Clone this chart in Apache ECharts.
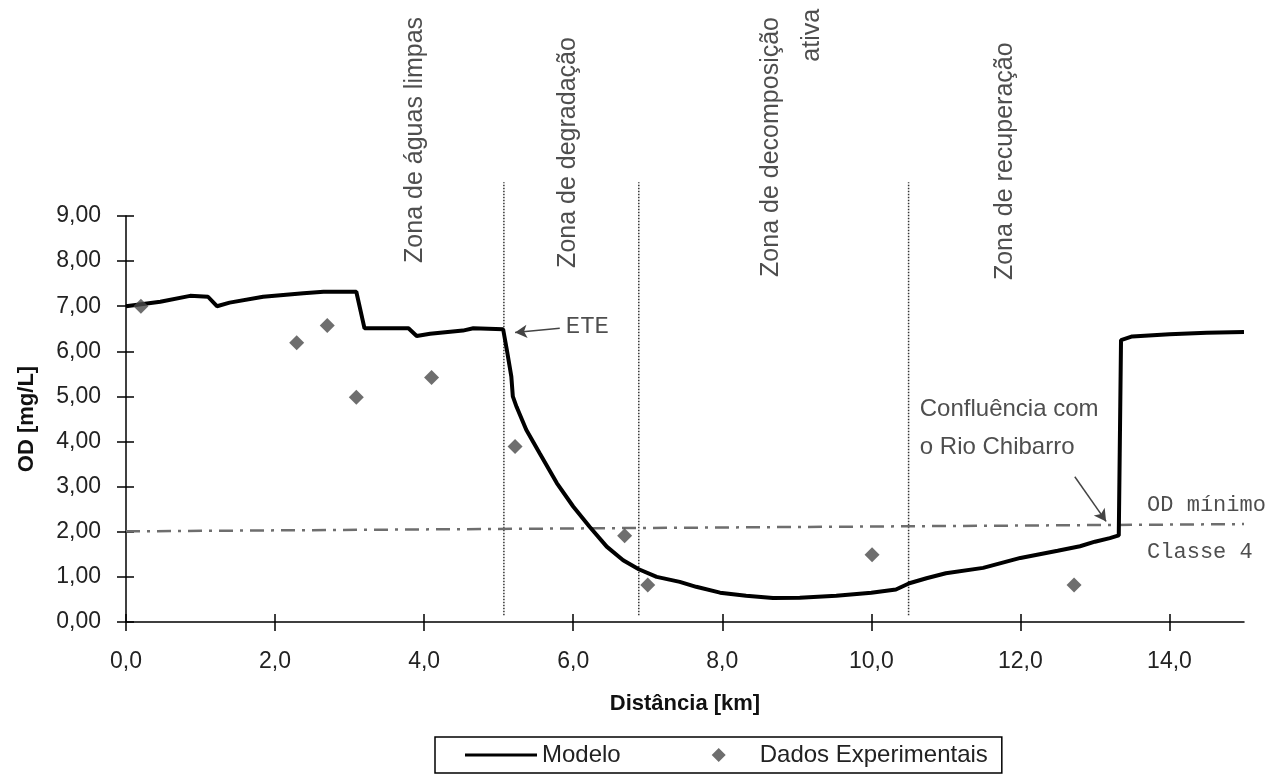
<!DOCTYPE html>
<html>
<head>
<meta charset="utf-8">
<script src="https://cdn.jsdelivr.net/npm/echarts@6/dist/echarts.min.js"></script>
<style>
html,body{margin:0;padding:0;background:#fff;}
#c{width:1284px;height:778px;}
</style>
</head>
<body>
<div id="c"></div>
<script>
// ---- data ----
const modelX = [0.0, 0.46, 0.86, 1.10, 1.22, 1.39, 1.84, 2.38, 2.65, 3.09, 3.20, 3.79, 3.90, 4.08, 4.52, 4.66, 5.06, 5.11, 5.17, 5.19, 5.24, 5.37, 5.55, 5.78, 6.00, 6.22, 6.45, 6.67, 6.88, 7.12, 7.43, 7.65, 7.97, 8.32, 8.68, 9.04, 9.53, 10.00, 10.33, 10.51, 10.74, 11.0, 11.5, 12.0, 12.5, 12.8, 13.0, 13.2, 13.32, 13.35, 13.5, 14.0, 14.5, 15.0];
const modelY = [7.0, 7.1, 7.23, 7.21, 7.0, 7.08, 7.21, 7.29, 7.32, 7.32, 6.51, 6.51, 6.34, 6.39, 6.46, 6.51, 6.49, 6.03, 5.44, 5.0, 4.77, 4.26, 3.74, 3.08, 2.56, 2.11, 1.67, 1.37, 1.17, 1.0, 0.89, 0.78, 0.65, 0.58, 0.53, 0.54, 0.58, 0.65, 0.72, 0.86, 0.97, 1.08, 1.2, 1.42, 1.58, 1.68, 1.78, 1.86, 1.92, 6.25, 6.33, 6.38, 6.41, 6.43];
const expX = [0.2, 2.29, 2.70, 3.09, 4.10, 5.22, 6.69, 7.0, 10.01, 12.72];
const expY = [7.0, 6.19, 6.57, 4.98, 5.42, 3.89, 1.91, 0.82, 1.49, 0.82];
const odMinX = [0, 15];
const odMinY = [2.01, 2.17];
const zoneBounds = [5.07, 6.88, 10.50];
const zoneBoundY = [0.15, 9.75];
const zoneLabels = ['Zona de águas limpas', 'Zona de degradação', 'Zona de decomposição', 'ativa', 'Zona de recuperação'];
const zoneLabelX = [3.88, 5.93, 8.66, 9.20, 11.79];
const zoneLabelY = [7.96, 7.85, 7.65, 12.42, 7.58];
const xTicks = ['0,0', '2,0', '4,0', '6,0', '8,0', '10,0', '12,0', '14,0'];
const yTicks = ['0,00', '1,00', '2,00', '3,00', '4,00', '5,00', '6,00', '7,00', '8,00', '9,00'];

const FONT = "'Liberation Sans', Arial, sans-serif";
const MONO = "'Courier New', 'Liberation Mono', monospace";

const chart = echarts.init(document.getElementById('c'), null, {renderer: 'canvas'});

const model = modelX.map((x, i) => [x, modelY[i]]);
const exp = expX.map((x, i) => [x, expY[i]]);

const series = [
  {
    name: 'Modelo', type: 'line', data: model, symbol: 'none',
    lineStyle: {color: '#000', width: 4}, itemStyle: {color: '#000'}, z: 5
  },
  {
    name: 'Dados Experimentais', type: 'scatter', data: exp, symbol: 'diamond',
    symbolSize: 15, itemStyle: {color: '#4a4a4a'}, z: 6
  },
  {
    name: 'odmin', type: 'line', data: odMinX.map((x, i) => [x, odMinY[i]]), symbol: 'none',
    lineStyle: {color: '#6e6e6e', width: 2.5, type: [14, 7, 3, 7]}, z: 3, silent: true
  }
];
zoneBounds.forEach((b, i) => {
  series.push({
    name: 'zb' + i, type: 'line', clip: false, symbol: 'none', silent: true,
    data: zoneBoundY.map(y => [b, y]),
    lineStyle: {color: '#333', width: 1.5, type: [1.5, 1.5]}, z: 2
  });
});
series.push({
  name: 'zonas', type: 'scatter', clip: false, symbolSize: 0, silent: true,
  data: zoneLabels.map((t, i) => ({value: [zoneLabelX[i], zoneLabelY[i]], name: t})),
  label: {
    show: true, position: [0, 0], rotate: 90, align: 'left', verticalAlign: 'middle',
    formatter: p => p.name, fontFamily: FONT, fontSize: 25, color: '#222'
  }
});
series.push({
  name: 'notas', type: 'scatter', clip: false, symbolSize: 0, silent: true,
  data: [
    {value: [5.82, 6.51], name: 'ETE', label: {fontFamily: MONO, fontSize: 24, align: 'left', verticalAlign: 'middle', offset: [6, -2]}},
    {value: [10.65, 4.72], name: 'Confluência com', label: {fontFamily: FONT, fontSize: 24, align: 'left', verticalAlign: 'middle'}},
    {value: [10.65, 3.88], name: 'o Rio Chibarro', label: {fontFamily: FONT, fontSize: 24, align: 'left', verticalAlign: 'middle'}},
    {value: [13.7, 2.58], name: 'OD mínimo', label: {fontFamily: MONO, fontSize: 22, align: 'left', verticalAlign: 'middle'}},
    {value: [13.7, 1.55], name: 'Classe 4', label: {fontFamily: MONO, fontSize: 22, align: 'left', verticalAlign: 'middle'}}
  ],
  label: {show: true, position: [0, 0], formatter: p => p.name, color: '#222'}
});
series.push({
  name: 'setas', type: 'line', data: [], silent: true,
  markLine: {
    silent: true, symbol: ['none', 'arrow'], symbolSize: [10, 12],
    lineStyle: {color: '#444', width: 1.5, type: 'solid'}, label: {show: false},
    data: [
      [{coord: [5.82, 6.51]}, {coord: [5.22, 6.42]}],
      [{coord: [12.73, 3.22]}, {coord: [13.15, 2.23]}]
    ]
  }
});

const option = {
  backgroundColor: '#fff',
  animation: false,
  grid: {left: 126, right: 40, top: 216, bottom: 156, containLabel: false},
  legend: {
    data: [
      {name: 'Modelo', icon: 'path://M0,5.5L72,5.5L72,8.5L0,8.5Z', itemStyle: {color: '#000'}},
      {name: 'Dados Experimentais', icon: 'path://M0,7L0.01,7L0,7.01Z M29,7L36,0L43,7L36,14Z M72,7L71.99,7L72,7.01Z', itemStyle: {color: '#4a4a4a'}}
    ],
    left: 435, top: 737, orient: 'horizontal',
    itemWidth: 72, itemHeight: 14, itemGap: 62, itemTextGap: 5,
    padding: [6, 14, 6, 30],
    borderColor: '#000', borderWidth: 1.5, borderRadius: 0,
    textStyle: {fontFamily: FONT, fontSize: 24, color: '#222'}
  },
  xAxis: [
    {
      type: 'value', min: 0, max: 15, interval: 2,
      name: 'Distância [km]', nameLocation: 'middle', nameGap: 71,
      nameTextStyle: {fontFamily: FONT, fontSize: 22, fontWeight: 'bold', color: '#111'},
      axisLine: {show: true, lineStyle: {color: '#000', width: 1.5}},
      axisTick: {show: true, inside: false, length: 9, lineStyle: {color: '#000', width: 1.5}, customValues: [0, 2, 4, 6, 8, 10, 12, 14]},
      axisLabel: {margin: 28, fontFamily: FONT, fontSize: 23, color: '#222',
        customValues: [0, 2, 4, 6, 8, 10, 12, 14],
        formatter: v => xTicks[Math.round(v / 2)] || ''},
      splitLine: {show: false}
    },
    {
      type: 'value', min: 0, max: 15, interval: 2, position: 'bottom',
      axisLine: {show: false},
      axisTick: {show: true, inside: true, length: 8, lineStyle: {color: '#000', width: 1.5}, customValues: [0, 2, 4, 6, 8, 10, 12, 14]},
      axisLabel: {show: false}, splitLine: {show: false}
    }
  ],
  yAxis: [
    {
      type: 'value', min: 0, max: 9, interval: 1,
      name: 'OD [mg/L]', nameLocation: 'middle', nameGap: 88,
      nameTextStyle: {fontFamily: FONT, fontSize: 22, fontWeight: 'bold', color: '#111'},
      axisLine: {show: true, lineStyle: {color: '#000', width: 1.5}},
      axisTick: {show: true, inside: false, length: 9, lineStyle: {color: '#000', width: 1.5}},
      axisLabel: {margin: 25, fontFamily: FONT, fontSize: 23, color: '#222',
        formatter: v => yTicks[Math.round(v)] || ''},
      splitLine: {show: false}
    },
    {
      type: 'value', min: 0, max: 9, interval: 1, position: 'left',
      axisLine: {show: false},
      axisTick: {show: true, inside: true, length: 8, lineStyle: {color: '#000', width: 1.5}},
      axisLabel: {show: false}, splitLine: {show: false}
    }
  ],
  series: series
};
chart.setOption(option);
</script>
</body>
</html>
